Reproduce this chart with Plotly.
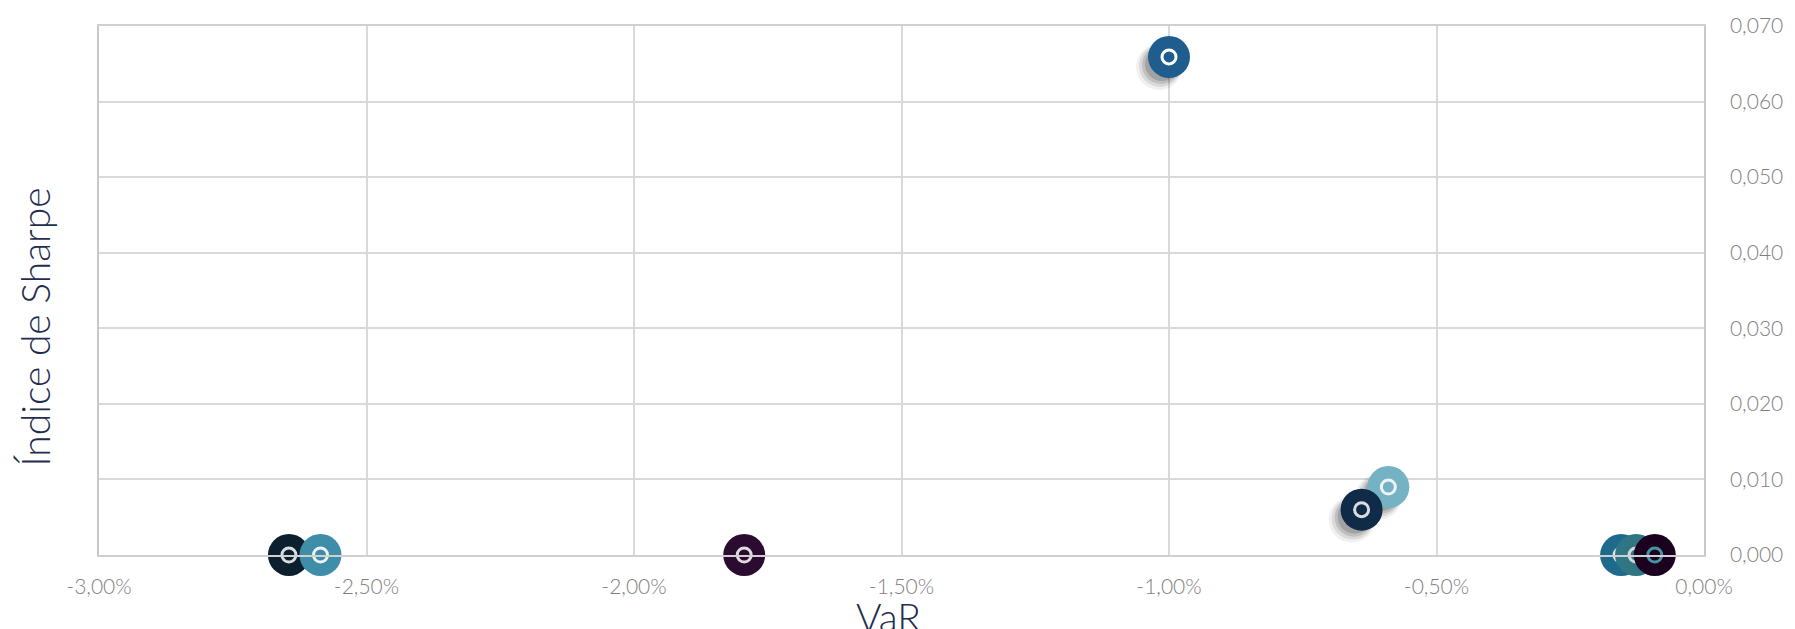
import plotly.graph_objects as go

# Data (VaR as fraction, Sharpe index)
var_values = [-0.0100, -0.0059, -0.0064, -0.00155, -0.00127, -0.00092, -0.02645, -0.02586, -0.01794]
sharpe_values = [0.0659, 0.0090, 0.0060, 0.0000, 0.0000, 0.0000, 0.0000, 0.0000, 0.0000]
colors = ["#1F5D8E", "#74B2C4", "#0F2B48", "#1E6A8D", "#2F7584", "#1B0020", "#0C1F2F", "#3F8EA9", "#2B0B30"]
ring_colors = ["#FFFFFF", "#EEF3F5", "#D9DDE2", "#E0E6EA", "#D0D8DC", "#4A93A3", "#D9DDE2", "#EEF3F5", "#E0DADF"]

x_ticks = [-0.03, -0.025, -0.02, -0.015, -0.01, -0.005, 0.0]
y_ticks = [0.0, 0.01, 0.02, 0.03, 0.04, 0.05, 0.06, 0.07]

X_RANGE = [-0.03, 0.0]
Y_RANGE = [0.0, 0.07]


def fmt_pct(v):
    s = f"{abs(v) * 100:.2f}%".replace(".", ",")
    return ("-" + s) if v < 0 else s


def fmt_num(v):
    return f"{v:.3f}".replace(".", ",")


fig = go.Figure()

# soft shadow (offset down-left, in pixel terms converted to data units)
plot_w = 1795 - 99 - 82
plot_h = 629 - 24 - 74
px_x = (X_RANGE[1] - X_RANGE[0]) / plot_w
px_y = (Y_RANGE[1] - Y_RANGE[0]) / plot_h
for off, size, op in [(10, 46, 0.06), (9, 42, 0.09), (8, 38, 0.12), (7, 34, 0.15)]:
    fig.add_trace(go.Scatter(
        x=[v - off * px_x for v in var_values],
        y=[s - off * px_y for s in sharpe_values],
        mode="markers",
        marker=dict(size=size, color=f"rgba(0,0,0,{op})", line=dict(width=0)),
        hoverinfo="skip", showlegend=False, cliponaxis=False,
    ))

for i in range(len(var_values)):
    fig.add_trace(go.Scatter(
        x=[var_values[i]], y=[sharpe_values[i]],
        mode="markers",
        marker=dict(size=42, color=colors[i], line=dict(width=0)),
        showlegend=False, cliponaxis=False,
    ))
    fig.add_trace(go.Scatter(
        x=[var_values[i]], y=[sharpe_values[i]],
        mode="markers",
        marker=dict(size=14, symbol="circle-open", color=ring_colors[i], line=dict(width=3, color=ring_colors[i])),
        hoverinfo="skip", showlegend=False, cliponaxis=False,
    ))

tick_font = dict(family="Lato", size=21, color="#7F7F7F", weight=300)
title_font = dict(family="Lato", size=39, color="#1F2D4F", weight=300)

fig.update_layout(
    width=1795, height=629,
    margin=dict(l=99, r=82, t=24, b=74),
    paper_bgcolor="white", plot_bgcolor="white",
    xaxis=dict(
        range=X_RANGE, tickvals=x_ticks, ticktext=[fmt_pct(v) for v in x_ticks],
        showgrid=True, gridcolor="#D9D9D9", gridwidth=1.5,
        zeroline=False, showline=True, mirror=True, linecolor="#D0D0D0", linewidth=1.5,
        tickfont=tick_font, ticks="", ticklabelstandoff=12,
    ),
    yaxis=dict(
        range=Y_RANGE, tickvals=y_ticks, ticktext=[fmt_num(v) for v in y_ticks], side="right",
        showgrid=True, gridcolor="#D9D9D9", gridwidth=1.5,
        zeroline=False, showline=True, mirror=True, linecolor="#C8C8C8", linewidth=1.5,
        tickfont=tick_font, ticks="", ticklabelstandoff=20,
    ),
    annotations=[
        dict(text="VaR", xref="paper", yref="paper", x=0.492, y=0, yshift=-62,
             xanchor="center", yanchor="middle", showarrow=False, font=title_font),
        dict(text="Índice de Sharpe", xref="paper", yref="paper", x=0, xshift=-64, y=0.43,
             xanchor="center", yanchor="middle", textangle=-90, showarrow=False, font=title_font),
    ],
)

fig.write_html("out.html", config={"displayModeBar": False},
               post_script="document.body.style.margin='0';document.body.style.overflow='hidden';")
